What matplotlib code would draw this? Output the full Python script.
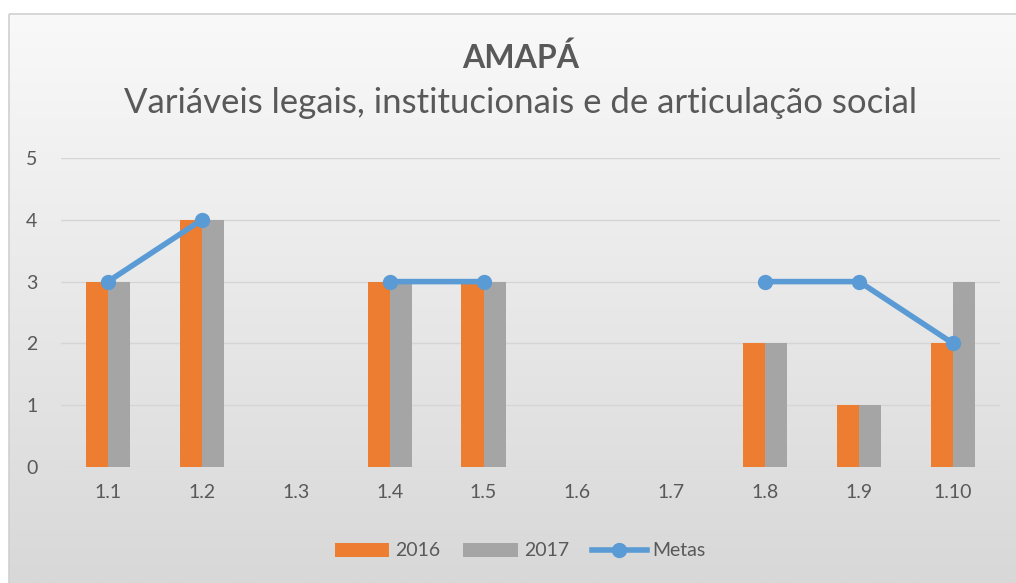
import numpy as np
import matplotlib.pyplot as plt
from matplotlib.patches import Rectangle
from matplotlib.colors import LinearSegmentedColormap

categorias = ['1.1', '1.2', '1.3', '1.4', '1.5', '1.6', '1.7', '1.8', '1.9', '1.10']
v2016 = [3, 4, 0, 3, 3, 0, 0, 2, 1, 2]
v2017 = [3, 4, 0, 3, 3, 0, 0, 2, 1, 3]
metas = [3, 4, np.nan, 3, 3, np.nan, np.nan, 3, 3, 2]

plt.rcParams['font.family'] = ['Lato', 'DejaVu Sans']

W, H = 1016, 583
fig = plt.figure(figsize=(W / 100, H / 100), dpi=100)
fig.patch.set_facecolor('white')

# fundo com degradê (estilo Excel)
bg = fig.add_axes([0, 0, 1, 1], zorder=0)
bg.set_xlim(0, W)
bg.set_ylim(H, 0)
bg.axis('off')
grad = np.linspace(0, 1, 256).reshape(-1, 1)
bg.imshow(grad, cmap=LinearSegmentedColormap.from_list('g', ['#f9f9f9', '#d8d8d8']),
          extent=[9, W, H, 14], aspect='auto')
bg.add_patch(Rectangle((9, 14), W, H, fill=False, edgecolor='#d0d0d0', lw=1.2))

ax = fig.add_axes([61 / W, 1 - 467 / H, (1000 - 61) / W, (467 - 158) / H], zorder=1)
ax.patch.set_alpha(0)

x = np.arange(len(categorias))
w = 0.235
b1 = ax.bar(x - w / 2, v2016, w, color='#ed7d31', label='2016', zorder=2)
b2 = ax.bar(x + w / 2, v2017, w, color='#a5a5a5', label='2017', zorder=2)
l1, = ax.plot(x, metas, color='#5b9bd5', lw=4, marker='o', markersize=10, label='Metas', zorder=3)

ax.set_xlim(-0.5, len(categorias) - 0.5)
ax.set_ylim(0, 5)
ax.set_yticks(range(6))
ax.set_xticks(x)
ax.set_xticklabels(categorias)
ax.grid(axis='y', color='#d5d5d5', lw=1, zorder=0)
for s in ax.spines.values():
    s.set_visible(False)
ax.tick_params(length=0, labelsize=14, colors='#595959', pad=12)
ax.tick_params(axis='y', pad=17)

fig.text(0.512, 1 - 58 / H, 'AMAPÁ', ha='center', va='center', fontsize=23, fontweight='bold', color='#595959')
fig.text(0.512, 1 - 103 / H, 'Variáveis legais, institucionais e de articulação social', ha='center', va='center',
         fontsize=25, color='#595959')

fig.legend([b1, b2, l1], ['2016', '2017', 'Metas'], loc='center', bbox_to_anchor=(0.512, 1 - 551 / H), ncol=3,
           frameon=False, fontsize=14, labelcolor='#595959', handlelength=2.8, columnspacing=1.2, handletextpad=0.3)

fig.savefig('out.png', dpi=100)
